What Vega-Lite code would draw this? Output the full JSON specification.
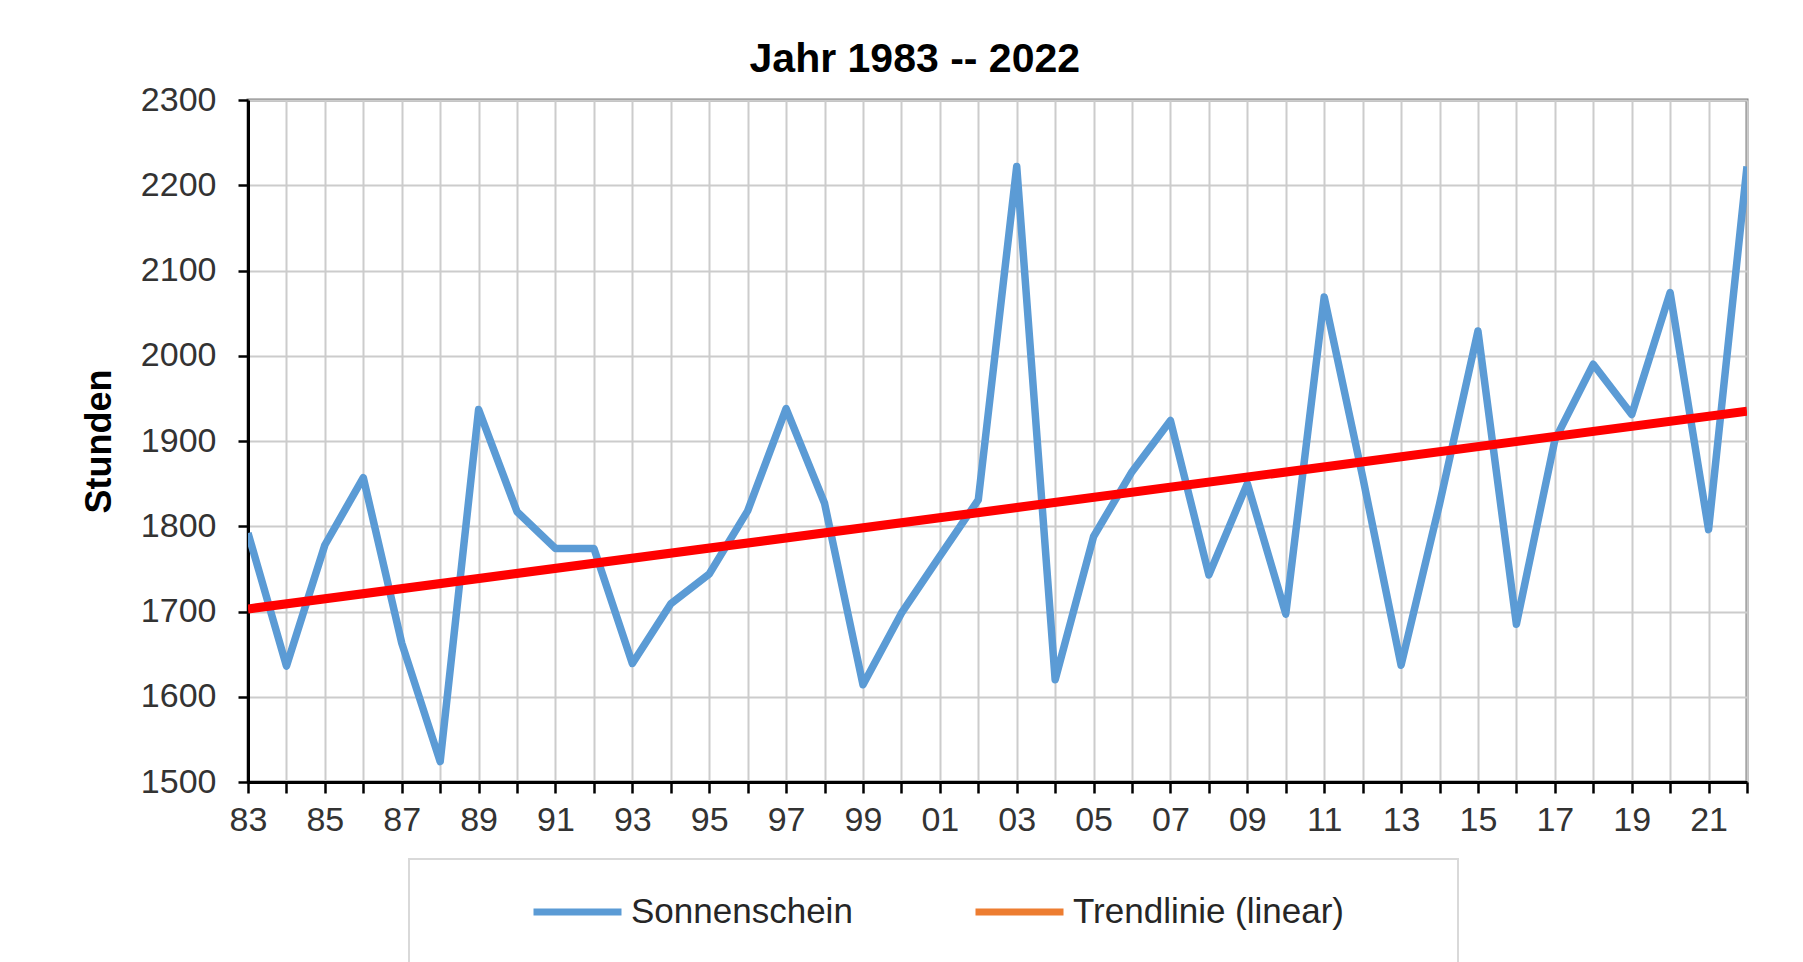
{
  "$schema": "https://vega.github.io/schema/vega-lite/v6.json",
  "width": 1499,
  "height": 682,
  "autosize": {"type": "none"},
  "padding": {"left": 248, "top": 100, "right": 56, "bottom": 180},
  "background": "white",
  "title": {
    "text": "Jahr 1983 -- 2022",
    "font": "Liberation Sans",
    "fontSize": 41,
    "fontWeight": "bold",
    "color": "black",
    "anchor": "middle",
    "frame": "bounds",
    "offset": 2
  },
  "datasets": {
    "sun": [
      {"year": 1983, "hours": 1792},
      {"year": 1984, "hours": 1636},
      {"year": 1985, "hours": 1778},
      {"year": 1986, "hours": 1857},
      {"year": 1987, "hours": 1663},
      {"year": 1988, "hours": 1524},
      {"year": 1989, "hours": 1937},
      {"year": 1990, "hours": 1817},
      {"year": 1991, "hours": 1774},
      {"year": 1992, "hours": 1774},
      {"year": 1993, "hours": 1639},
      {"year": 1994, "hours": 1709},
      {"year": 1995, "hours": 1744},
      {"year": 1996, "hours": 1818},
      {"year": 1997, "hours": 1938},
      {"year": 1998, "hours": 1827},
      {"year": 1999, "hours": 1614},
      {"year": 2000, "hours": 1698},
      {"year": 2001, "hours": 1765},
      {"year": 2002, "hours": 1831},
      {"year": 2003, "hours": 2222},
      {"year": 2004, "hours": 1620},
      {"year": 2005, "hours": 1788},
      {"year": 2006, "hours": 1864},
      {"year": 2007, "hours": 1924},
      {"year": 2008, "hours": 1743},
      {"year": 2009, "hours": 1850},
      {"year": 2010, "hours": 1697},
      {"year": 2011, "hours": 2069},
      {"year": 2012, "hours": 1858},
      {"year": 2013, "hours": 1637},
      {"year": 2014, "hours": 1826},
      {"year": 2015, "hours": 2029},
      {"year": 2016, "hours": 1685},
      {"year": 2017, "hours": 1901},
      {"year": 2018, "hours": 1990},
      {"year": 2019, "hours": 1931},
      {"year": 2020, "hours": 2074},
      {"year": 2021, "hours": 1796},
      {"year": 2022, "hours": 2222}
    ],
    "trend": [
      {"year": 1983, "hours": 1703},
      {"year": 2022, "hours": 1935}
    ]
  },
  "encoding": {
    "x": {
      "field": "year",
      "type": "quantitative",
      "scale": {"domain": [1983, 2022], "nice": false, "zero": false},
      "axis": {
        "title": null,
        "values": [1983,1984,1985,1986,1987,1988,1989,1990,1991,1992,1993,1994,1995,1996,1997,1998,1999,2000,2001,2002,2003,2004,2005,2006,2007,2008,2009,2010,2011,2012,2013,2014,2015,2016,2017,2018,2019,2020,2021,2022],
        "labelExpr": "datum.value % 2 == 1 ? substring(toString(datum.value), 2, 4) : ''",
        "labelFlush": false,
        "labelOverlap": false,
        "labelFont": "Liberation Sans",
        "labelFontSize": 34,
        "labelColor": "#333333",
        "labelPadding": 10,
        "grid": true,
        "gridColor": "#CCCCCC",
        "gridWidth": 2,
        "domainColor": "black",
        "domainWidth": 3,
        "tickColor": "black",
        "tickWidth": 2.5,
        "tickSize": 11
      }
    },
    "y": {
      "field": "hours",
      "type": "quantitative",
      "scale": {"domain": [1500, 2300], "nice": false, "zero": false},
      "axis": {
        "title": "Stunden",
        "titleFont": "Liberation Sans",
        "titleFontSize": 36,
        "titleFontWeight": "bold",
        "titleColor": "black",
        "titlePadding": 22,
        "values": [1500,1600,1700,1800,1900,2000,2100,2200,2300],
        "format": "d",
        "labelFont": "Liberation Sans",
        "labelFontSize": 34,
        "labelColor": "#333333",
        "labelPadding": 22,
        "grid": true,
        "gridColor": "#CCCCCC",
        "gridWidth": 2,
        "domainColor": "black",
        "domainWidth": 3,
        "tickColor": "black",
        "tickWidth": 2.5,
        "tickSize": 10
      }
    }
  },
  "layer": [
    {
      "data": {"name": "sun"},
      "mark": {"type": "line", "strokeWidth": 7.5, "strokeJoin": "round", "clip": true},
      "encoding": {
        "color": {
          "datum": "Sonnenschein",
          "type": "nominal",
          "scale": {"domain": ["Sonnenschein", "Trendlinie (linear)"], "range": ["#5B9BD5", "#ED7D31"]},
          "legend": {
            "orient": "none",
            "legendX": 161,
            "legendY": 759,
            "direction": "horizontal",
            "title": " ",
            "titleOrient": "right",
            "titleFontSize": 2,
            "titlePadding": 79,
            "padding": 35,
            "clipHeight": 36,
            "strokeColor": "#D9D9D9",
            "symbolType": "stroke",
            "symbolSize": 7744,
            "symbolStrokeWidth": 7,
            "symbolOffset": 86,
            "labelFont": "Liberation Sans",
            "labelFontSize": 35,
            "labelColor": "#262626",
            "labelOffset": 6,
            "labelLimit": 800,
            "columnPadding": 33
          }
        }
      }
    },
    {
      "data": {"name": "trend"},
      "mark": {"type": "line", "color": "#FF0000", "strokeWidth": 9, "clip": true}
    }
  ],
  "config": {
    "font": "Liberation Sans",
    "view": {"stroke": "#7F7F7F", "strokeWidth": 3},
    "legend": {"strokeWidth": 2}
  }
}
